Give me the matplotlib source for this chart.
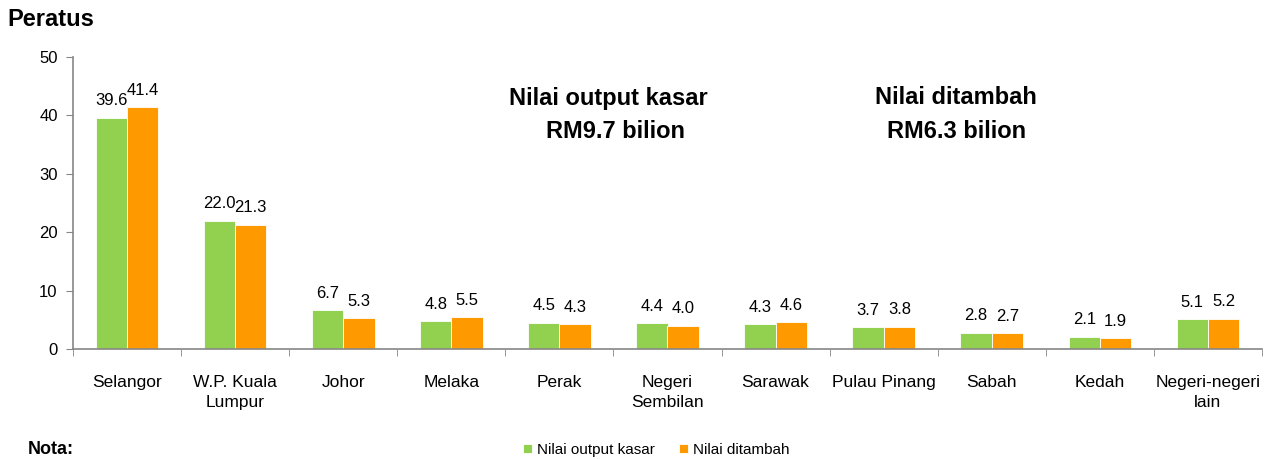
import numpy as np
import matplotlib.pyplot as plt

# Data
states = ["Selangor", "W.P. Kuala\nLumpur", "Johor", "Melaka", "Perak",
          "Negeri\nSembilan", "Sarawak", "Pulau Pinang", "Sabah", "Kedah",
          "Negeri-negeri\nlain"]
output_kasar = [39.6, 22.0, 6.7, 4.8, 4.5, 4.4, 4.3, 3.7, 2.8, 2.1, 5.1]
nilai_ditambah = [41.4, 21.3, 5.3, 5.5, 4.3, 4.0, 4.6, 3.8, 2.7, 1.9, 5.2]
series_names = ["Nilai output kasar", "Nilai ditambah"]
y_ticks = [0, 10, 20, 30, 40, 50]

plt.rcParams['font.family'] = ['Liberation Sans', 'DejaVu Sans']

green = '#92d050'
orange = '#ff9900'
axis_col = '#868686'

fig = plt.figure(figsize=(12.66, 4.59), dpi=100)
ax = fig.add_axes([73 / 1266, 1 - 349 / 459, (1262 - 73) / 1266, (349 - 57) / 459])

x = np.arange(len(states))
w = 0.29
b1 = ax.bar(x - w / 2, output_kasar, w, color=green, edgecolor='white', linewidth=0.6,
            label=series_names[0])
b2 = ax.bar(x + w / 2, nilai_ditambah, w, color=orange, edgecolor='white', linewidth=0.6,
            label=series_names[1])

for bars, vals in ((b1, output_kasar), (b2, nilai_ditambah)):
    for rect, v in zip(bars, vals):
        ax.text(rect.get_x() + rect.get_width() / 2, v + 1.6, f"{v:.1f}",
                ha='center', va='bottom', fontsize=12)

ax.set_xlim(-0.5, len(states) - 0.5)
ax.set_ylim(0, 50)
ax.set_yticks(y_ticks)
ax.tick_params(axis='y', labelsize=12, length=5, color=axis_col, direction='out', pad=6)
ax.set_xticks(x)
ax.set_xticklabels(states, fontsize=12.5, linespacing=1.4)
ax.tick_params(axis='x', length=0, pad=19)
ax.set_xticks(np.arange(len(states) + 1) - 0.5, minor=True)
ax.tick_params(axis='x', which='minor', length=5, color=axis_col, direction='out')

for s in ('top', 'right'):
    ax.spines[s].set_visible(False)
ax.spines['left'].set_color(axis_col)
ax.spines['bottom'].set_color(axis_col)
ax.spines['left'].set_linewidth(1.2)
ax.spines['bottom'].set_linewidth(1.2)

# Totals annotations
fig.text(608 / 1266, 1 - 98 / 459, "Nilai output kasar",
         ha='center', va='center', fontsize=17, fontweight='bold')
fig.text(616 / 1266, 1 - 132 / 459, "RM9.7 bilion",
         ha='center', va='center', fontsize=17, fontweight='bold')
fig.text(956 / 1266, 1 - 98 / 459, "Nilai ditambah",
         ha='center', va='center', fontsize=17, fontweight='bold')
fig.text(957 / 1266, 1 - 132 / 459, "RM6.3 bilion",
         ha='center', va='center', fontsize=17, fontweight='bold')

fig.text(7 / 1266, 1 - 20 / 459, "Peratus", ha='left', va='center',
         fontsize=17, fontweight='bold')
fig.text(28 / 1266, 1 - 458 / 459, "Nota:", ha='left', va='bottom',
         fontsize=13, fontweight='bold')

fig.legend(handles=[b1, b2], loc='center', bbox_to_anchor=(656 / 1266, 1 - 450 / 459),
           ncol=2, frameon=False, fontsize=11, handlelength=0.6, handleheight=0.6,
           handletextpad=0.3, columnspacing=1.6)

fig.savefig("out.png", dpi=100)
